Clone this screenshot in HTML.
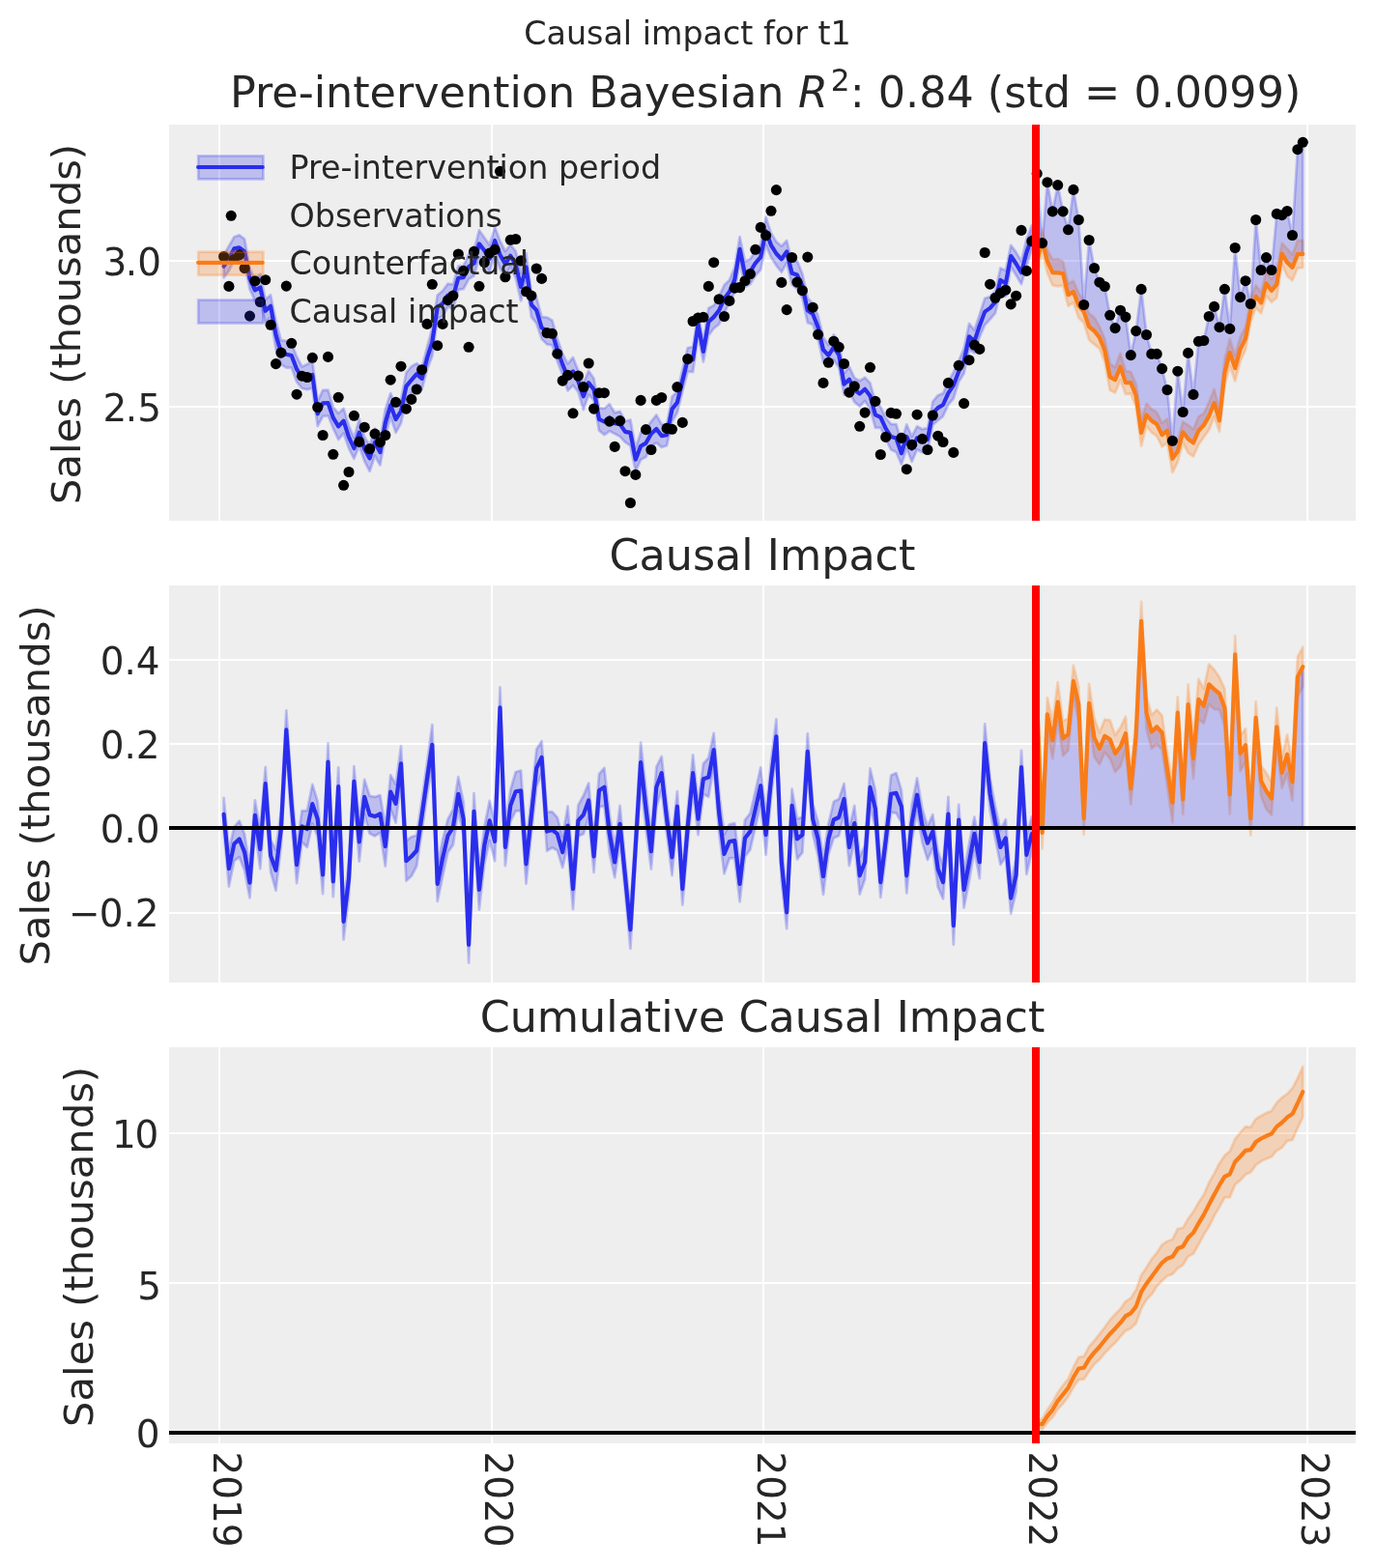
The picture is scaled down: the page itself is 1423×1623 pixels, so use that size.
<!DOCTYPE html>
<html lang="en"><head><meta charset="utf-8"><title>Causal impact for t1</title>
<style>html,body{margin:0;padding:0;background:#fff}body{width:1423px;height:1623px;overflow:hidden}svg{display:block}text{font-family:'DejaVu Sans','Liberation Sans',sans-serif;fill:#262626}</style></head><body>
<svg width="1423" height="1623" viewBox="0 0 1423 1623">
<rect width="1423" height="1623" fill="#fff"/>
<defs>
<clipPath id="c1"><rect x="175" y="129" width="1228" height="410"/></clipPath>
<clipPath id="c2"><rect x="175" y="606" width="1228" height="411"/></clipPath>
<clipPath id="c3"><rect x="175" y="1084" width="1228" height="410"/></clipPath>
</defs>
<g clip-path="url(#c1)">
<rect x="175" y="129" width="1228" height="410" fill="#eeeeee"/>
<rect x="226" y="129" width="2" height="410" fill="#fff"/>
<rect x="508" y="129" width="2" height="410" fill="#fff"/>
<rect x="789" y="129" width="2" height="410" fill="#fff"/>
<rect x="1071" y="129" width="2" height="410" fill="#fff"/>
<rect x="1352" y="129" width="2" height="410" fill="#fff"/>
<rect x="175" y="269" width="1228" height="2" fill="#fff"/>
<rect x="175" y="420" width="1228" height="2" fill="#fff"/>
<polygon points="231.6,264.0 236.9,254.8 242.3,245.2 247.7,243.3 253.1,247.4 258.5,277.4 263.9,289.5 269.3,283.6 274.7,310.1 280.1,305.2 285.5,332.2 290.9,352.2 296.3,352.8 301.7,355.5 307.1,369.0 312.5,379.4 317.9,376.9 323.3,373.8 328.7,415.6 334.1,403.8 339.5,403.7 344.8,421.4 350.2,427.8 355.6,422.7 361.0,440.4 366.4,453.1 371.8,433.7 377.2,452.2 382.6,461.0 388.0,443.6 393.4,454.7 398.8,423.4 404.2,407.1 409.6,420.3 415.0,413.2 420.4,385.7 425.8,379.3 431.2,376.1 436.6,380.6 442.0,359.3 447.3,339.9 452.7,305.5 458.1,301.0 463.5,293.7 468.9,294.3 474.3,275.5 479.7,275.0 485.1,263.0 490.5,259.6 495.9,238.2 501.3,246.0 506.7,253.5 512.1,235.1 517.5,249.3 522.9,260.0 528.3,253.3 533.7,260.0 539.1,282.6 544.5,262.2 549.9,302.4 555.2,307.8 560.6,327.8 566.0,328.6 571.4,331.4 576.8,350.4 582.2,366.1 587.6,376.5 593.0,370.0 598.4,383.5 603.8,396.5 609.2,383.9 614.6,391.8 620.0,422.0 625.4,422.8 630.8,418.2 636.2,427.2 641.6,425.8 647.0,436.0 652.4,434.5 657.8,463.7 663.1,447.7 668.5,444.1 673.9,436.4 679.3,429.4 684.7,439.2 690.1,439.2 695.5,410.6 700.9,405.5 706.3,382.5 711.7,360.0 717.1,359.0 722.5,324.5 727.9,352.9 733.3,319.0 738.7,316.1 744.1,306.9 749.5,295.0 754.9,289.9 760.3,276.9 765.6,245.1 771.0,270.6 776.4,268.3 781.8,259.5 787.2,253.0 792.6,224.8 798.0,241.1 803.4,250.1 808.8,254.7 814.2,248.9 819.6,270.9 825.0,270.1 830.4,283.5 835.8,308.4 841.2,314.2 846.6,326.5 852.0,349.1 857.4,357.0 862.8,346.4 868.2,354.1 873.5,386.7 878.9,379.6 884.3,391.1 889.7,394.2 895.1,390.8 900.5,396.4 905.9,415.8 911.3,421.1 916.7,432.7 922.1,438.8 927.5,439.2 932.9,457.5 938.3,439.4 943.7,451.7 949.1,441.3 954.5,444.2 959.9,443.1 965.3,415.7 970.7,409.2 976.0,407.1 981.4,394.6 986.8,385.2 992.2,373.6 997.6,360.8 1003.0,334.9 1008.4,341.5 1013.8,325.6 1019.2,308.8 1024.6,307.2 1030.0,301.3 1035.4,277.5 1040.8,279.9 1046.2,253.8 1051.6,261.1 1057.0,270.2 1062.4,247.6 1067.8,233.2 1067.8,258.0 1062.4,275.4 1057.0,294.1 1051.6,285.0 1046.2,276.1 1040.8,306.6 1035.4,302.3 1030.0,324.1 1024.6,330.5 1019.2,336.4 1013.8,348.8 1008.4,365.3 1003.0,361.9 997.6,386.6 992.2,395.3 986.8,412.5 981.4,418.9 976.0,430.8 970.7,435.1 965.3,440.0 959.9,466.9 954.5,468.4 949.1,465.2 943.7,477.7 938.3,464.3 932.9,480.8 927.5,468.0 922.1,465.4 916.7,454.6 911.3,442.7 905.9,442.8 900.5,423.2 895.1,414.9 889.7,420.8 884.3,416.1 878.9,405.8 873.5,408.6 868.2,380.4 862.8,372.5 857.4,378.6 852.0,374.9 846.6,351.1 841.2,335.8 835.8,334.1 830.4,308.9 825.0,299.0 819.6,294.7 814.2,272.1 808.8,281.7 803.4,274.8 798.0,266.4 792.6,253.4 787.2,279.2 781.8,285.2 776.4,294.3 771.0,296.9 765.6,270.5 760.3,301.9 754.9,314.3 749.5,323.3 744.1,335.6 738.7,340.0 733.3,347.1 727.9,374.6 722.5,347.1 717.1,385.1 711.7,384.6 706.3,405.5 700.9,427.2 695.5,436.6 690.1,461.2 684.7,463.0 679.3,458.4 673.9,461.7 668.5,473.0 663.1,475.9 657.8,487.6 652.4,461.4 647.0,457.7 641.6,451.9 636.2,449.0 630.8,446.3 625.4,450.1 620.0,445.7 614.6,414.4 609.2,408.5 603.8,424.1 598.4,405.6 593.0,398.9 587.6,404.4 582.2,388.0 576.8,374.1 571.4,357.3 566.0,356.4 560.6,350.9 555.2,334.7 549.9,328.2 544.5,290.6 539.1,311.4 533.7,288.0 528.3,276.0 522.9,286.6 517.5,278.3 512.1,263.0 506.7,282.0 501.3,272.7 495.9,266.5 490.5,285.5 485.1,288.9 479.7,299.1 474.3,299.9 468.9,319.6 463.5,317.5 458.1,327.3 452.7,330.3 447.3,368.7 442.0,382.4 436.6,403.1 431.2,398.3 425.8,407.4 420.4,414.2 415.0,438.1 409.6,447.9 404.2,431.6 398.8,451.8 393.4,481.6 388.0,471.8 382.6,487.9 377.2,477.3 371.8,461.7 366.4,474.8 361.0,464.1 355.6,448.6 350.2,455.0 344.8,443.3 339.5,430.3 334.1,430.8 328.7,441.0 323.3,401.8 317.9,403.2 312.5,402.0 307.1,395.3 301.7,380.6 296.3,380.6 290.9,377.2 285.5,361.2 280.1,328.4 274.7,333.5 269.3,311.4 263.9,311.1 258.5,299.3 253.1,273.6 247.7,269.3 242.3,269.5 236.9,280.4 231.6,287.3" fill="#2a2eec" fill-opacity="0.25" stroke="#2a2eec" stroke-opacity="0.25" stroke-width="2.78" stroke-linejoin="round"/>
<polygon points="1073.2,256.5 1078.6,237.2 1083.9,258.4 1089.3,268.9 1094.7,268.2 1100.1,270.8 1105.5,293.6 1110.9,290.8 1116.3,303.6 1121.7,311.1 1127.1,324.4 1132.5,328.6 1137.9,338.0 1143.3,350.9 1148.7,376.4 1154.1,380.1 1159.5,365.8 1164.9,384.0 1170.3,385.0 1175.7,397.5 1181.1,434.2 1186.5,417.7 1191.8,423.5 1197.2,426.8 1202.6,437.8 1208.0,433.5 1213.4,460.6 1218.8,455.8 1224.2,436.6 1229.6,440.0 1235.0,444.4 1240.4,431.3 1245.8,427.8 1251.2,416.3 1256.6,402.8 1262.0,423.7 1267.4,372.3 1272.8,350.9 1278.2,367.9 1283.6,348.6 1289.0,338.5 1294.3,309.6 1299.7,295.2 1305.1,302.5 1310.5,280.5 1315.9,289.1 1321.3,280.4 1326.7,251.7 1332.1,257.4 1337.5,263.5 1342.9,249.0 1348.3,248.8 1348.3,277.1 1342.9,277.5 1337.5,290.3 1332.1,285.7 1326.7,273.5 1321.3,308.0 1315.9,312.7 1310.5,306.4 1305.1,324.4 1299.7,318.4 1294.3,333.6 1289.0,362.2 1283.6,374.0 1278.2,394.4 1272.8,378.7 1267.4,399.4 1262.0,446.9 1256.6,431.3 1251.2,445.0 1245.8,452.5 1240.4,460.3 1235.0,472.5 1229.6,468.6 1224.2,458.1 1218.8,478.4 1213.4,489.0 1208.0,458.1 1202.6,462.5 1197.2,451.4 1191.8,447.6 1186.5,441.2 1181.1,461.7 1175.7,421.2 1170.3,407.4 1164.9,408.1 1159.5,393.4 1154.1,406.5 1148.7,403.9 1143.3,374.5 1137.9,360.8 1132.5,356.4 1127.1,352.0 1121.7,334.0 1116.3,329.1 1110.9,313.2 1105.5,316.8 1100.1,295.7 1094.7,296.3 1089.3,295.3 1083.9,282.4 1078.6,260.0 1073.2,284.4" fill="#fa7c17" fill-opacity="0.25" stroke="#fa7c17" stroke-opacity="0.25" stroke-width="2.78" stroke-linejoin="round"/>
<polygon points="1073.2,179.7 1078.6,251.6 1083.9,188.7 1089.3,218.9 1094.7,191.6 1100.1,218.9 1105.5,237.8 1110.9,196.4 1116.3,227.5 1121.7,315.5 1127.1,248.5 1132.5,277.5 1137.9,292.2 1143.3,296.5 1148.7,326.3 1154.1,339.6 1159.5,321.2 1164.9,328.1 1170.3,367.6 1175.7,342.6 1181.1,299.4 1186.5,346.5 1191.8,366.4 1197.2,366.4 1202.6,381.6 1208.0,403.5 1213.4,456.3 1218.8,384.2 1224.2,426.5 1229.6,365.4 1235.0,408.4 1240.4,353.3 1245.8,352.5 1251.2,327.5 1256.6,317.4 1262.0,338.7 1267.4,299.3 1272.8,340.4 1278.2,256.5 1283.6,307.6 1289.0,290.7 1294.3,314.5 1299.7,227.5 1305.1,279.5 1310.5,266.6 1315.9,279.5 1321.3,221.4 1326.7,222.7 1332.1,218.5 1337.5,243.5 1342.9,154.7 1348.3,147.3 1348.3,263.0 1342.9,263.2 1337.5,276.9 1332.1,271.6 1326.7,262.6 1321.3,294.2 1315.9,300.9 1310.5,293.4 1305.1,313.4 1299.7,306.8 1294.3,321.6 1289.0,350.3 1283.6,361.3 1278.2,381.2 1272.8,364.8 1267.4,385.8 1262.0,435.3 1256.6,417.1 1251.2,430.6 1245.8,440.1 1240.4,445.8 1235.0,458.4 1229.6,454.3 1224.2,447.3 1218.8,467.1 1213.4,474.8 1208.0,445.8 1202.6,450.1 1197.2,439.1 1191.8,435.5 1186.5,429.4 1181.1,448.0 1175.7,409.4 1170.3,396.2 1164.9,396.1 1159.5,379.6 1154.1,393.3 1148.7,390.1 1143.3,362.7 1137.9,349.4 1132.5,342.5 1127.1,338.2 1121.7,322.6 1116.3,316.4 1110.9,302.0 1105.5,305.2 1100.1,283.3 1094.7,282.3 1089.3,282.1 1083.9,270.4 1078.6,248.6 1073.2,270.5" fill="#2a2eec" fill-opacity="0.25" stroke="#2a2eec" stroke-opacity="0.25" stroke-width="2.78" stroke-linejoin="round"/>
<polyline points="231.6,275.7 236.9,267.6 242.3,257.4 247.7,256.3 253.1,260.5 258.5,288.3 263.9,300.3 269.3,297.5 274.7,321.8 280.1,316.8 285.5,346.7 290.9,364.7 296.3,366.7 301.7,368.0 307.1,382.2 312.5,390.7 317.9,390.1 323.3,387.8 328.7,428.3 334.1,417.3 339.5,417.0 344.8,432.4 350.2,441.4 355.6,435.6 361.0,452.3 366.4,464.0 371.8,447.7 377.2,464.8 382.6,474.4 388.0,457.7 393.4,468.1 398.8,437.6 404.2,419.3 409.6,434.1 415.0,425.7 420.4,399.9 425.8,393.3 431.2,387.2 436.6,391.9 442.0,370.9 447.3,354.3 452.7,317.9 458.1,314.2 463.5,305.6 468.9,307.0 474.3,287.7 479.7,287.1 485.1,276.0 490.5,272.6 495.9,252.4 501.3,259.3 506.7,267.8 512.1,249.0 517.5,263.8 522.9,273.3 528.3,264.7 533.7,274.0 539.1,297.0 544.5,276.4 549.9,315.3 555.2,321.2 560.6,339.3 566.0,342.5 571.4,344.3 576.8,362.2 582.2,377.1 587.6,390.5 593.0,384.4 598.4,394.6 603.8,410.3 609.2,396.2 614.6,403.1 620.0,433.8 625.4,436.5 630.8,432.2 636.2,438.1 641.6,438.9 647.0,446.9 652.4,447.9 657.8,475.7 663.1,461.8 668.5,458.6 673.9,449.0 679.3,443.9 684.7,451.1 690.1,450.2 695.5,423.6 700.9,416.4 706.3,394.0 711.7,372.3 717.1,372.1 722.5,335.8 727.9,363.8 733.3,333.0 738.7,328.1 744.1,321.3 749.5,309.2 754.9,302.1 760.3,289.4 765.6,257.8 771.0,283.8 776.4,281.3 781.8,272.3 787.2,266.1 792.6,239.1 798.0,253.8 803.4,262.5 808.8,268.2 814.2,260.5 819.6,282.8 825.0,284.6 830.4,296.2 835.8,321.3 841.2,325.0 846.6,338.8 852.0,362.0 857.4,367.8 862.8,359.4 868.2,367.3 873.5,397.7 878.9,392.7 884.3,403.6 889.7,407.5 895.1,402.8 900.5,409.8 905.9,429.3 911.3,431.9 916.7,443.6 922.1,452.1 927.5,453.6 932.9,469.2 938.3,451.9 943.7,464.7 949.1,453.3 954.5,456.3 959.9,455.0 965.3,427.9 970.7,422.1 976.0,419.0 981.4,406.8 986.8,398.8 992.2,384.5 997.6,373.7 1003.0,348.4 1008.4,353.4 1013.8,337.2 1019.2,322.6 1024.6,318.9 1030.0,312.7 1035.4,289.9 1040.8,293.3 1046.2,265.0 1051.6,273.0 1057.0,282.2 1062.4,261.5 1067.8,245.6" fill="none" stroke="#2a2eec" stroke-width="4.17" stroke-linejoin="round" stroke-linecap="round"/>
<g fill="#000"><circle cx="231.6" cy="265.5" r="5.55"/><circle cx="236.9" cy="296.4" r="5.55"/><circle cx="242.3" cy="268.5" r="5.55"/><circle cx="247.7" cy="263.8" r="5.55"/><circle cx="253.1" cy="277.6" r="5.55"/><circle cx="258.5" cy="327.1" r="5.55"/><circle cx="263.9" cy="290.9" r="5.55"/><circle cx="269.3" cy="312.5" r="5.55"/><circle cx="274.7" cy="289.7" r="5.55"/><circle cx="280.1" cy="336.3" r="5.55"/><circle cx="285.5" cy="376.6" r="5.55"/><circle cx="290.9" cy="365.1" r="5.55"/><circle cx="296.3" cy="296.1" r="5.55"/><circle cx="301.7" cy="355.3" r="5.55"/><circle cx="307.1" cy="408.2" r="5.55"/><circle cx="312.5" cy="389.2" r="5.55"/><circle cx="317.9" cy="390.5" r="5.55"/><circle cx="323.3" cy="370.3" r="5.55"/><circle cx="328.7" cy="421.5" r="5.55"/><circle cx="334.1" cy="450.5" r="5.55"/><circle cx="339.5" cy="369.4" r="5.55"/><circle cx="344.8" cy="470.3" r="5.55"/><circle cx="350.2" cy="411.3" r="5.55"/><circle cx="355.6" cy="502.3" r="5.55"/><circle cx="361.0" cy="488.5" r="5.55"/><circle cx="366.4" cy="430.3" r="5.55"/><circle cx="371.8" cy="457.4" r="5.55"/><circle cx="377.2" cy="442.2" r="5.55"/><circle cx="382.6" cy="464.6" r="5.55"/><circle cx="388.0" cy="449.1" r="5.55"/><circle cx="393.4" cy="457.7" r="5.55"/><circle cx="398.8" cy="450.5" r="5.55"/><circle cx="404.2" cy="393.2" r="5.55"/><circle cx="409.6" cy="416.3" r="5.55"/><circle cx="415.0" cy="379.2" r="5.55"/><circle cx="420.4" cy="423.2" r="5.55"/><circle cx="425.8" cy="413.4" r="5.55"/><circle cx="431.2" cy="403.0" r="5.55"/><circle cx="436.6" cy="382.7" r="5.55"/><circle cx="442.0" cy="335.4" r="5.55"/><circle cx="447.3" cy="294.3" r="5.55"/><circle cx="452.7" cy="357.7" r="5.55"/><circle cx="458.1" cy="335.4" r="5.55"/><circle cx="463.5" cy="310.7" r="5.55"/><circle cx="468.9" cy="306.1" r="5.55"/><circle cx="474.3" cy="263.0" r="5.55"/><circle cx="479.7" cy="280.3" r="5.55"/><circle cx="485.1" cy="359.3" r="5.55"/><circle cx="490.5" cy="260.4" r="5.55"/><circle cx="495.9" cy="296.3" r="5.55"/><circle cx="501.3" cy="271.6" r="5.55"/><circle cx="506.7" cy="262.1" r="5.55"/><circle cx="512.1" cy="258.4" r="5.55"/><circle cx="517.5" cy="177.3" r="5.55"/><circle cx="522.9" cy="286.8" r="5.55"/><circle cx="528.3" cy="248.3" r="5.55"/><circle cx="533.7" cy="247.5" r="5.55"/><circle cx="539.1" cy="269.9" r="5.55"/><circle cx="544.5" cy="301.8" r="5.55"/><circle cx="549.9" cy="306.1" r="5.55"/><circle cx="555.2" cy="278.0" r="5.55"/><circle cx="560.6" cy="288.4" r="5.55"/><circle cx="566.0" cy="344.6" r="5.55"/><circle cx="571.4" cy="345.3" r="5.55"/><circle cx="576.8" cy="366.2" r="5.55"/><circle cx="582.2" cy="394.1" r="5.55"/><circle cx="587.6" cy="388.4" r="5.55"/><circle cx="593.0" cy="427.8" r="5.55"/><circle cx="598.4" cy="389.0" r="5.55"/><circle cx="603.8" cy="400.5" r="5.55"/><circle cx="609.2" cy="376.0" r="5.55"/><circle cx="614.6" cy="423.1" r="5.55"/><circle cx="620.0" cy="406.7" r="5.55"/><circle cx="625.4" cy="406.7" r="5.55"/><circle cx="630.8" cy="436.2" r="5.55"/><circle cx="636.2" cy="462.4" r="5.55"/><circle cx="641.6" cy="435.6" r="5.55"/><circle cx="647.0" cy="487.7" r="5.55"/><circle cx="652.4" cy="520.5" r="5.55"/><circle cx="657.8" cy="491.4" r="5.55"/><circle cx="663.1" cy="414.4" r="5.55"/><circle cx="668.5" cy="444.6" r="5.55"/><circle cx="673.9" cy="465.5" r="5.55"/><circle cx="679.3" cy="414.4" r="5.55"/><circle cx="684.7" cy="411.5" r="5.55"/><circle cx="690.1" cy="443.4" r="5.55"/><circle cx="695.5" cy="444.3" r="5.55"/><circle cx="700.9" cy="400.6" r="5.55"/><circle cx="706.3" cy="437.4" r="5.55"/><circle cx="711.7" cy="371.5" r="5.55"/><circle cx="717.1" cy="332.5" r="5.55"/><circle cx="722.5" cy="329.0" r="5.55"/><circle cx="727.9" cy="328.3" r="5.55"/><circle cx="733.3" cy="296.4" r="5.55"/><circle cx="738.7" cy="271.7" r="5.55"/><circle cx="744.1" cy="309.7" r="5.55"/><circle cx="749.5" cy="327.5" r="5.55"/><circle cx="754.9" cy="311.4" r="5.55"/><circle cx="760.3" cy="298.1" r="5.55"/><circle cx="765.6" cy="297.6" r="5.55"/><circle cx="771.0" cy="290.7" r="5.55"/><circle cx="776.4" cy="283.5" r="5.55"/><circle cx="781.8" cy="258.3" r="5.55"/><circle cx="787.2" cy="235.4" r="5.55"/><circle cx="792.6" cy="243.7" r="5.55"/><circle cx="798.0" cy="218.3" r="5.55"/><circle cx="803.4" cy="196.6" r="5.55"/><circle cx="808.8" cy="292.4" r="5.55"/><circle cx="814.2" cy="320.6" r="5.55"/><circle cx="819.6" cy="266.5" r="5.55"/><circle cx="825.0" cy="292.1" r="5.55"/><circle cx="830.4" cy="300.7" r="5.55"/><circle cx="835.8" cy="266.1" r="5.55"/><circle cx="841.2" cy="318.2" r="5.55"/><circle cx="846.6" cy="346.3" r="5.55"/><circle cx="852.0" cy="396.4" r="5.55"/><circle cx="857.4" cy="375.3" r="5.55"/><circle cx="862.8" cy="353.2" r="5.55"/><circle cx="868.2" cy="359.3" r="5.55"/><circle cx="873.5" cy="376.5" r="5.55"/><circle cx="878.9" cy="406.2" r="5.55"/><circle cx="884.3" cy="399.8" r="5.55"/><circle cx="889.7" cy="441.3" r="5.55"/><circle cx="895.1" cy="427.1" r="5.55"/><circle cx="900.5" cy="380.3" r="5.55"/><circle cx="905.9" cy="415.4" r="5.55"/><circle cx="911.3" cy="470.5" r="5.55"/><circle cx="916.7" cy="452.4" r="5.55"/><circle cx="922.1" cy="427.4" r="5.55"/><circle cx="927.5" cy="428.3" r="5.55"/><circle cx="932.9" cy="453.4" r="5.55"/><circle cx="938.3" cy="485.7" r="5.55"/><circle cx="943.7" cy="460.3" r="5.55"/><circle cx="949.1" cy="429.2" r="5.55"/><circle cx="954.5" cy="454.3" r="5.55"/><circle cx="959.9" cy="465.5" r="5.55"/><circle cx="965.3" cy="430.0" r="5.55"/><circle cx="970.7" cy="451.2" r="5.55"/><circle cx="976.0" cy="457.5" r="5.55"/><circle cx="981.4" cy="396.4" r="5.55"/><circle cx="986.8" cy="468.4" r="5.55"/><circle cx="992.2" cy="378.3" r="5.55"/><circle cx="997.6" cy="417.6" r="5.55"/><circle cx="1003.0" cy="372.7" r="5.55"/><circle cx="1008.4" cy="357.1" r="5.55"/><circle cx="1013.8" cy="361.4" r="5.55"/><circle cx="1019.2" cy="261.5" r="5.55"/><circle cx="1024.6" cy="294.2" r="5.55"/><circle cx="1030.0" cy="308.3" r="5.55"/><circle cx="1035.4" cy="303.4" r="5.55"/><circle cx="1040.8" cy="300.2" r="5.55"/><circle cx="1046.2" cy="314.9" r="5.55"/><circle cx="1051.6" cy="306.2" r="5.55"/><circle cx="1057.0" cy="238.4" r="5.55"/><circle cx="1062.4" cy="280.4" r="5.55"/><circle cx="1067.8" cy="249.6" r="5.55"/></g>
<polyline points="1073.2,270.5 1078.6,248.6 1083.9,270.4 1089.3,282.1 1094.7,282.3 1100.1,283.3 1105.5,305.2 1110.9,302.0 1116.3,316.4 1121.7,322.6 1127.1,338.2 1132.5,342.5 1137.9,349.4 1143.3,362.7 1148.7,390.1 1154.1,393.3 1159.5,379.6 1164.9,396.1 1170.3,396.2 1175.7,409.4 1181.1,448.0 1186.5,429.4 1191.8,435.5 1197.2,439.1 1202.6,450.1 1208.0,445.8 1213.4,474.8 1218.8,467.1 1224.2,447.3 1229.6,454.3 1235.0,458.4 1240.4,445.8 1245.8,440.1 1251.2,430.6 1256.6,417.1 1262.0,435.3 1267.4,385.8 1272.8,364.8 1278.2,381.2 1283.6,361.3 1289.0,350.3 1294.3,321.6 1299.7,306.8 1305.1,313.4 1310.5,293.4 1315.9,300.9 1321.3,294.2 1326.7,262.6 1332.1,271.6 1337.5,276.9 1342.9,263.2 1348.3,263.0" fill="none" stroke="#fa7c17" stroke-width="4.17" stroke-linejoin="round" stroke-linecap="round"/>
<g fill="#000"><circle cx="1073.2" cy="179.7" r="5.55"/><circle cx="1078.6" cy="251.6" r="5.55"/><circle cx="1083.9" cy="188.7" r="5.55"/><circle cx="1089.3" cy="218.9" r="5.55"/><circle cx="1094.7" cy="191.6" r="5.55"/><circle cx="1100.1" cy="218.9" r="5.55"/><circle cx="1105.5" cy="237.8" r="5.55"/><circle cx="1110.9" cy="196.4" r="5.55"/><circle cx="1116.3" cy="227.5" r="5.55"/><circle cx="1121.7" cy="315.5" r="5.55"/><circle cx="1127.1" cy="248.5" r="5.55"/><circle cx="1132.5" cy="277.5" r="5.55"/><circle cx="1137.9" cy="292.2" r="5.55"/><circle cx="1143.3" cy="296.5" r="5.55"/><circle cx="1148.7" cy="326.3" r="5.55"/><circle cx="1154.1" cy="339.6" r="5.55"/><circle cx="1159.5" cy="321.2" r="5.55"/><circle cx="1164.9" cy="328.1" r="5.55"/><circle cx="1170.3" cy="367.6" r="5.55"/><circle cx="1175.7" cy="342.6" r="5.55"/><circle cx="1181.1" cy="299.4" r="5.55"/><circle cx="1186.5" cy="346.5" r="5.55"/><circle cx="1191.8" cy="366.4" r="5.55"/><circle cx="1197.2" cy="366.4" r="5.55"/><circle cx="1202.6" cy="381.6" r="5.55"/><circle cx="1208.0" cy="403.5" r="5.55"/><circle cx="1213.4" cy="456.3" r="5.55"/><circle cx="1218.8" cy="384.2" r="5.55"/><circle cx="1224.2" cy="426.5" r="5.55"/><circle cx="1229.6" cy="365.4" r="5.55"/><circle cx="1235.0" cy="408.4" r="5.55"/><circle cx="1240.4" cy="353.3" r="5.55"/><circle cx="1245.8" cy="352.5" r="5.55"/><circle cx="1251.2" cy="327.5" r="5.55"/><circle cx="1256.6" cy="317.4" r="5.55"/><circle cx="1262.0" cy="338.7" r="5.55"/><circle cx="1267.4" cy="299.3" r="5.55"/><circle cx="1272.8" cy="340.4" r="5.55"/><circle cx="1278.2" cy="256.5" r="5.55"/><circle cx="1283.6" cy="307.6" r="5.55"/><circle cx="1289.0" cy="290.7" r="5.55"/><circle cx="1294.3" cy="314.5" r="5.55"/><circle cx="1299.7" cy="227.5" r="5.55"/><circle cx="1305.1" cy="279.5" r="5.55"/><circle cx="1310.5" cy="266.6" r="5.55"/><circle cx="1315.9" cy="279.5" r="5.55"/><circle cx="1321.3" cy="221.4" r="5.55"/><circle cx="1326.7" cy="222.7" r="5.55"/><circle cx="1332.1" cy="218.5" r="5.55"/><circle cx="1337.5" cy="243.5" r="5.55"/><circle cx="1342.9" cy="154.7" r="5.55"/><circle cx="1348.3" cy="147.3" r="5.55"/></g>
<rect x="1068" y="129" width="8" height="410" fill="#ff0000"/>
<rect x="205.2" y="161.40" width="67.2" height="24" fill="#2a2eec" fill-opacity="0.25" stroke="#2a2eec" stroke-opacity="0.25" stroke-width="2.78"/>
<line x1="205.1" y1="173.00" x2="271.7" y2="173.00" stroke="#2a2eec" stroke-width="4.17" stroke-linecap="round"/>
<circle cx="239.2" cy="223.30" r="5.55" fill="#000"/>
<rect x="205.2" y="260.70" width="67.2" height="24" fill="#fa7c17" fill-opacity="0.25" stroke="#fa7c17" stroke-opacity="0.25" stroke-width="2.78"/>
<line x1="205.1" y1="271.80" x2="271.7" y2="271.80" stroke="#fa7c17" stroke-width="4.17" stroke-linecap="round"/>
<rect x="205.2" y="310.50" width="67.2" height="24" fill="#2a2eec" fill-opacity="0.25" stroke="#2a2eec" stroke-opacity="0.25" stroke-width="2.78"/>
</g>
<g clip-path="url(#c2)">
<rect x="175" y="606" width="1228" height="411" fill="#eeeeee"/>
<rect x="226" y="606" width="2" height="411" fill="#fff"/>
<rect x="508" y="606" width="2" height="411" fill="#fff"/>
<rect x="789" y="606" width="2" height="411" fill="#fff"/>
<rect x="1071" y="606" width="2" height="411" fill="#fff"/>
<rect x="1352" y="606" width="2" height="411" fill="#fff"/>
<rect x="175" y="682" width="1228" height="2" fill="#fff"/>
<rect x="175" y="769" width="1228" height="2" fill="#fff"/>
<rect x="175" y="856" width="1228" height="2" fill="#fff"/>
<rect x="175" y="944" width="1228" height="2" fill="#fff"/>
<polygon points="231.6,826.0 236.9,880.6 242.3,856.0 247.7,849.6 253.1,863.2 258.5,897.7 263.9,828.3 269.3,859.0 274.7,794.2 280.1,868.8 285.5,879.8 290.9,839.9 296.3,735.3 301.7,814.0 307.1,876.1 312.5,839.1 317.9,839.0 323.3,811.9 328.7,829.3 334.1,885.9 339.5,769.5 344.8,896.5 350.2,794.4 355.6,935.0 361.0,892.6 366.4,793.2 371.8,851.2 377.2,806.8 382.6,823.9 388.0,824.8 393.4,823.1 398.8,855.6 404.2,802.1 409.6,811.9 415.0,772.4 420.4,870.5 425.8,866.2 431.2,864.4 436.6,828.0 442.0,789.6 447.3,750.1 452.7,897.1 458.1,869.3 463.5,847.8 468.9,838.0 474.3,804.2 479.7,830.2 485.1,959.2 490.5,821.2 495.9,900.5 501.3,856.0 506.7,828.8 512.1,850.8 517.5,711.5 522.9,857.8 528.3,817.5 533.7,799.0 539.1,797.5 544.5,873.8 549.9,825.6 555.2,775.6 560.6,767.2 566.0,840.5 571.4,840.2 576.8,846.1 582.2,866.3 587.6,834.4 593.0,899.2 598.4,833.4 603.8,823.5 609.2,810.6 614.6,870.2 620.0,801.2 625.4,794.8 630.8,842.9 636.2,876.8 641.6,834.0 647.0,891.5 652.4,943.0 657.8,858.0 663.1,768.7 668.5,816.4 673.9,863.0 679.3,793.9 684.7,783.0 690.1,831.8 695.5,868.6 700.9,819.1 706.3,903.6 711.7,838.6 717.1,781.4 722.5,831.3 727.9,790.5 733.3,784.3 738.7,758.8 744.1,820.0 749.5,863.5 754.9,853.4 760.3,852.1 765.6,896.6 771.0,848.5 776.4,841.8 781.8,818.7 787.2,794.3 792.6,843.4 798.0,788.0 803.4,744.4 808.8,873.1 814.2,927.5 819.6,816.7 825.0,847.5 830.4,845.7 835.8,759.3 841.2,832.1 846.6,850.6 852.0,888.5 857.4,852.8 862.8,829.7 868.2,827.0 873.5,811.1 878.9,858.1 884.3,833.9 889.7,887.1 895.1,875.1 900.5,795.5 905.9,817.8 911.3,897.6 916.7,854.3 922.1,802.6 927.5,800.1 932.9,817.9 938.3,888.3 943.7,832.4 949.1,805.4 954.5,837.1 959.9,855.5 965.3,843.1 970.7,880.7 976.0,896.1 981.4,824.9 986.8,938.4 992.2,832.9 997.6,902.4 1003.0,873.0 1008.4,845.7 1013.8,875.8 1019.2,749.3 1024.6,805.0 1030.0,834.6 1035.4,859.1 1040.8,848.2 1046.2,913.6 1051.6,888.2 1057.0,776.9 1062.4,864.7 1067.8,845.3 1067.8,881.1 1062.4,904.9 1057.0,811.5 1051.6,922.7 1046.2,945.7 1040.8,886.9 1035.4,894.9 1030.0,867.7 1024.6,838.6 1019.2,789.1 1013.8,909.3 1008.4,880.1 1003.0,912.1 997.6,939.6 992.2,864.2 986.8,977.8 981.4,860.1 976.0,930.4 970.7,918.2 965.3,878.1 959.9,889.9 954.5,872.1 949.1,839.9 943.7,869.9 938.3,924.4 932.9,851.6 927.5,841.7 922.1,841.0 916.7,885.9 911.3,928.9 905.9,856.9 900.5,834.3 895.1,910.0 889.7,925.6 884.3,870.1 878.9,896.0 873.5,842.8 868.2,864.9 862.8,867.4 857.4,884.0 852.0,925.9 846.6,886.2 841.2,863.2 835.8,796.3 830.4,882.4 825.0,889.3 819.6,851.0 814.2,961.1 808.8,912.0 803.4,780.1 798.0,824.6 792.6,884.7 787.2,832.1 781.8,855.9 776.4,879.4 771.0,886.6 765.6,933.3 760.3,888.1 754.9,888.5 749.5,904.3 744.1,861.5 738.7,793.3 733.3,824.8 727.9,822.0 722.5,864.0 717.1,819.1 711.7,874.0 706.3,936.7 700.9,850.4 695.5,906.2 690.1,863.6 684.7,817.4 679.3,835.9 673.9,899.6 668.5,858.2 663.1,809.4 657.8,892.6 652.4,981.9 647.0,923.0 641.6,871.7 636.2,908.3 630.8,883.5 625.4,834.3 620.0,835.5 614.6,902.8 609.2,846.1 603.8,863.3 598.4,865.4 593.0,941.1 587.6,874.8 582.2,898.0 576.8,880.3 571.4,877.5 566.0,880.7 560.6,800.5 555.2,814.5 549.9,862.9 544.5,914.7 539.1,839.2 533.7,839.4 528.3,850.3 522.9,896.2 517.5,753.4 512.1,891.2 506.7,870.0 501.3,894.5 495.9,941.5 490.5,858.6 485.1,996.7 479.7,865.1 474.3,839.4 468.9,874.6 463.5,882.1 458.1,907.2 452.7,932.9 447.3,791.7 442.0,823.0 436.6,860.5 431.2,896.5 425.8,906.8 420.4,911.8 415.0,808.3 409.6,851.7 404.2,837.4 398.8,896.7 393.4,861.9 388.0,865.4 382.6,862.8 377.2,843.0 371.8,891.7 366.4,824.5 361.0,926.9 355.6,972.5 350.2,833.7 344.8,928.2 339.5,807.9 334.1,925.1 328.7,866.1 323.3,852.4 317.9,877.0 312.5,871.8 307.1,914.1 301.7,850.3 296.3,775.5 290.9,876.1 285.5,921.8 280.1,902.4 274.7,828.0 269.3,899.2 263.9,859.5 258.5,929.4 253.1,901.1 247.7,887.2 242.3,891.1 236.9,917.6 231.6,859.7" fill="#2a2eec" fill-opacity="0.25" stroke="#2a2eec" stroke-opacity="0.25" stroke-width="2.78" stroke-linejoin="round"/>
<polygon points="1073.2,706.1 1078.6,845.5 1083.9,722.1 1089.3,747.1 1094.7,706.1 1100.1,746.4 1105.5,743.4 1110.9,688.7 1116.3,710.6 1121.7,830.7 1127.1,707.9 1132.5,743.4 1137.9,758.3 1143.3,744.8 1148.7,745.3 1154.1,760.9 1159.5,753.1 1164.9,741.8 1170.3,800.0 1175.7,743.9 1181.1,622.9 1186.5,720.7 1191.8,740.1 1197.2,734.6 1202.6,740.6 1208.0,778.6 1213.4,810.3 1218.8,721.3 1224.2,811.9 1229.6,708.4 1235.0,764.8 1240.4,702.9 1245.8,712.9 1251.2,687.6 1256.6,692.9 1262.0,701.1 1267.4,712.9 1272.8,802.1 1278.2,658.1 1283.6,761.6 1289.0,754.2 1294.3,829.9 1299.7,726.1 1305.1,792.5 1310.5,800.0 1315.9,809.5 1321.3,732.4 1326.7,784.0 1332.1,760.3 1337.5,790.0 1342.9,680.0 1348.3,669.8 1348.3,710.7 1342.9,721.2 1337.5,828.6 1332.1,801.3 1326.7,815.5 1321.3,772.3 1315.9,843.6 1310.5,837.5 1305.1,824.3 1299.7,759.6 1294.3,864.6 1289.0,788.4 1283.6,798.3 1278.2,696.4 1272.8,842.3 1267.4,752.1 1262.0,734.6 1256.6,734.1 1251.2,729.1 1245.8,748.7 1240.4,744.8 1235.0,805.5 1229.6,749.7 1224.2,842.9 1218.8,754.0 1213.4,851.4 1208.0,814.1 1202.6,776.2 1197.2,770.1 1191.8,774.9 1186.5,754.7 1181.1,662.6 1175.7,778.1 1170.3,832.4 1164.9,776.6 1159.5,793.0 1154.1,799.0 1148.7,785.2 1143.3,778.9 1137.9,791.3 1132.5,783.7 1127.1,747.8 1121.7,863.8 1116.3,747.5 1110.9,721.1 1105.5,776.8 1100.1,782.4 1094.7,746.8 1089.3,785.2 1083.9,756.8 1078.6,878.3 1073.2,746.5" fill="#fa7c17" fill-opacity="0.25" stroke="#fa7c17" stroke-opacity="0.25" stroke-width="2.78" stroke-linejoin="round"/>
<polygon points="1073.2,726.3 1078.6,861.9 1083.9,739.4 1089.3,766.1 1094.7,726.5 1100.1,764.4 1105.5,760.1 1110.9,704.9 1116.3,729.1 1121.7,847.2 1127.1,727.8 1132.5,763.6 1137.9,774.8 1143.3,761.8 1148.7,765.3 1154.1,779.9 1159.5,773.0 1164.9,759.2 1170.3,816.2 1175.7,761.0 1181.1,642.8 1186.5,737.7 1191.8,757.5 1197.2,752.3 1202.6,758.4 1208.0,796.3 1213.4,830.8 1218.8,737.7 1224.2,827.4 1229.6,729.1 1235.0,785.1 1240.4,723.9 1245.8,730.8 1251.2,708.3 1256.6,713.5 1262.0,717.8 1267.4,732.5 1272.8,822.2 1278.2,677.3 1283.6,779.9 1289.0,771.3 1294.3,847.2 1299.7,742.9 1305.1,808.4 1310.5,818.8 1315.9,826.5 1321.3,752.3 1326.7,799.8 1332.1,780.8 1337.5,809.3 1342.9,700.6 1348.3,690.2 1348.3,857.0 1342.9,857.0 1337.5,857.0 1332.1,857.0 1326.7,857.0 1321.3,857.0 1315.9,857.0 1310.5,857.0 1305.1,857.0 1299.7,857.0 1294.3,857.0 1289.0,857.0 1283.6,857.0 1278.2,857.0 1272.8,857.0 1267.4,857.0 1262.0,857.0 1256.6,857.0 1251.2,857.0 1245.8,857.0 1240.4,857.0 1235.0,857.0 1229.6,857.0 1224.2,857.0 1218.8,857.0 1213.4,857.0 1208.0,857.0 1202.6,857.0 1197.2,857.0 1191.8,857.0 1186.5,857.0 1181.1,857.0 1175.7,857.0 1170.3,857.0 1164.9,857.0 1159.5,857.0 1154.1,857.0 1148.7,857.0 1143.3,857.0 1137.9,857.0 1132.5,857.0 1127.1,857.0 1121.7,857.0 1116.3,857.0 1110.9,857.0 1105.5,857.0 1100.1,857.0 1094.7,857.0 1089.3,857.0 1083.9,857.0 1078.6,857.0 1073.2,857.0" fill="#2a2eec" fill-opacity="0.25" stroke="#2a2eec" stroke-opacity="0.25" stroke-width="2.78" stroke-linejoin="round"/>
<polyline points="231.6,842.8 236.9,899.1 242.3,873.6 247.7,868.4 253.1,882.2 258.5,913.6 263.9,843.9 269.3,879.1 274.7,811.1 280.1,885.6 285.5,900.8 290.9,858.0 296.3,755.4 301.7,832.1 307.1,895.1 312.5,855.4 317.9,858.0 323.3,832.1 328.7,847.7 334.1,905.5 339.5,788.7 344.8,912.4 350.2,814.0 355.6,953.8 361.0,909.8 366.4,808.9 371.8,871.5 377.2,824.9 382.6,843.4 388.0,845.1 393.4,842.5 398.8,876.1 404.2,819.7 409.6,831.8 415.0,790.4 420.4,891.2 425.8,886.5 431.2,880.5 436.6,844.2 442.0,806.3 447.3,770.9 452.7,915.0 458.1,888.2 463.5,864.9 468.9,856.3 474.3,821.8 479.7,847.7 485.1,977.9 490.5,839.9 495.9,921.0 501.3,875.3 506.7,849.4 512.1,871.0 517.5,732.4 522.9,877.0 528.3,833.9 533.7,819.2 539.1,818.3 544.5,894.3 549.9,844.2 555.2,795.1 560.6,783.8 566.0,860.6 571.4,858.9 576.8,863.2 582.2,882.2 587.6,854.6 593.0,920.1 598.4,849.4 603.8,843.4 609.2,828.4 614.6,886.5 620.0,818.3 625.4,814.6 630.8,863.2 636.2,892.5 641.6,852.9 647.0,907.2 652.4,962.4 657.8,875.3 663.1,789.0 668.5,837.3 673.9,881.3 679.3,814.9 684.7,800.2 690.1,847.7 695.5,887.4 700.9,834.7 706.3,920.1 711.7,856.3 717.1,800.2 722.5,847.7 727.9,806.3 733.3,804.5 738.7,776.1 744.1,840.8 749.5,883.9 754.9,871.0 760.3,870.1 765.6,915.0 771.0,867.5 776.4,860.6 781.8,837.3 787.2,813.2 792.6,864.1 798.0,806.3 803.4,762.3 808.8,892.5 814.2,944.3 819.6,833.9 825.0,868.4 830.4,864.1 835.8,777.8 841.2,847.7 846.6,868.4 852.0,907.2 857.4,868.4 862.8,848.5 868.2,846.0 873.5,827.0 878.9,877.0 884.3,852.0 889.7,906.3 895.1,892.5 900.5,814.9 905.9,837.3 911.3,913.2 916.7,870.1 922.1,821.8 927.5,820.9 932.9,834.7 938.3,906.3 943.7,851.1 949.1,822.7 954.5,854.6 959.9,872.7 965.3,860.6 970.7,899.4 976.0,913.2 981.4,842.5 986.8,958.1 992.2,848.5 997.6,921.0 1003.0,892.5 1008.4,862.9 1013.8,892.5 1019.2,769.2 1024.6,821.8 1030.0,851.1 1035.4,877.0 1040.8,867.5 1046.2,929.6 1051.6,905.5 1057.0,794.2 1062.4,884.8 1067.8,863.2" fill="none" stroke="#2a2eec" stroke-width="4.17" stroke-linejoin="round" stroke-linecap="round"/>
<polyline points="1073.2,726.3 1078.6,861.9 1083.9,739.4 1089.3,766.1 1094.7,726.5 1100.1,764.4 1105.5,760.1 1110.9,704.9 1116.3,729.1 1121.7,847.2 1127.1,727.8 1132.5,763.6 1137.9,774.8 1143.3,761.8 1148.7,765.3 1154.1,779.9 1159.5,773.0 1164.9,759.2 1170.3,816.2 1175.7,761.0 1181.1,642.8 1186.5,737.7 1191.8,757.5 1197.2,752.3 1202.6,758.4 1208.0,796.3 1213.4,830.8 1218.8,737.7 1224.2,827.4 1229.6,729.1 1235.0,785.1 1240.4,723.9 1245.8,730.8 1251.2,708.3 1256.6,713.5 1262.0,717.8 1267.4,732.5 1272.8,822.2 1278.2,677.3 1283.6,779.9 1289.0,771.3 1294.3,847.2 1299.7,742.9 1305.1,808.4 1310.5,818.8 1315.9,826.5 1321.3,752.3 1326.7,799.8 1332.1,780.8 1337.5,809.3 1342.9,700.6 1348.3,690.2" fill="none" stroke="#fa7c17" stroke-width="4.17" stroke-linejoin="round" stroke-linecap="round"/>
<rect x="175" y="855" width="1228" height="4" fill="#000"/>
<rect x="1068" y="606" width="8" height="411" fill="#ff0000"/>
</g>
<g clip-path="url(#c3)">
<rect x="175" y="1084" width="1228" height="410" fill="#eeeeee"/>
<rect x="226" y="1084" width="2" height="410" fill="#fff"/>
<rect x="508" y="1084" width="2" height="410" fill="#fff"/>
<rect x="789" y="1084" width="2" height="410" fill="#fff"/>
<rect x="1071" y="1084" width="2" height="410" fill="#fff"/>
<rect x="1352" y="1084" width="2" height="410" fill="#fff"/>
<rect x="175" y="1172" width="1228" height="2" fill="#fff"/>
<rect x="175" y="1327" width="1228" height="2" fill="#fff"/>
<rect x="175" y="1482" width="1228" height="2" fill="#fff"/>
<polygon points="1073.2,1470.1 1078.6,1468.8 1083.9,1459.2 1089.3,1451.5 1094.7,1441.5 1100.1,1433.9 1105.5,1427.3 1110.9,1415.2 1116.3,1404.8 1121.7,1403.9 1127.1,1393.7 1132.5,1387.7 1137.9,1380.8 1143.3,1373.8 1148.7,1366.3 1154.1,1360.3 1159.5,1354.8 1164.9,1347.1 1170.3,1343.6 1175.7,1335.1 1181.1,1319.7 1186.5,1312.0 1191.8,1303.2 1197.2,1296.8 1202.6,1288.3 1208.0,1284.7 1213.4,1282.7 1218.8,1271.9 1224.2,1270.9 1229.6,1261.5 1235.0,1254.1 1240.4,1244.6 1245.8,1236.7 1251.2,1224.1 1256.6,1214.6 1262.0,1204.0 1267.4,1196.1 1272.8,1191.3 1278.2,1178.9 1283.6,1172.3 1289.0,1166.1 1294.3,1166.7 1299.7,1158.1 1305.1,1155.0 1310.5,1152.0 1315.9,1149.8 1321.3,1141.3 1326.7,1136.1 1332.1,1132.2 1337.5,1126.4 1342.9,1116.1 1348.3,1104.0 1348.3,1156.2 1342.9,1167.9 1337.5,1179.9 1332.1,1180.9 1326.7,1188.0 1321.3,1190.9 1315.9,1197.4 1310.5,1199.5 1305.1,1202.1 1299.7,1205.9 1294.3,1213.5 1289.0,1215.7 1283.6,1221.7 1278.2,1226.1 1272.8,1239.3 1267.4,1239.5 1262.0,1249.4 1256.6,1258.6 1251.2,1269.6 1245.8,1278.1 1240.4,1288.3 1235.0,1297.7 1229.6,1300.6 1224.2,1309.4 1218.8,1312.8 1213.4,1318.9 1208.0,1320.7 1202.6,1325.8 1197.2,1331.4 1191.8,1339.9 1186.5,1345.3 1181.1,1354.7 1175.7,1369.8 1170.3,1375.0 1164.9,1377.4 1159.5,1383.6 1154.1,1390.1 1148.7,1395.1 1143.3,1400.7 1137.9,1407.3 1132.5,1412.1 1127.1,1419.5 1121.7,1427.7 1116.3,1428.2 1110.9,1436.1 1105.5,1445.7 1100.1,1452.9 1094.7,1458.5 1089.3,1467.1 1083.9,1472.4 1078.6,1479.6 1073.2,1477.6" fill="#fa7c17" fill-opacity="0.25" stroke="#fa7c17" stroke-opacity="0.25" stroke-width="2.78" stroke-linejoin="round"/>
<polyline points="1073.2,1473.9 1078.6,1474.2 1083.9,1465.8 1089.3,1459.3 1094.7,1450.0 1100.1,1443.4 1105.5,1436.5 1110.9,1425.6 1116.3,1416.5 1121.7,1415.8 1127.1,1406.6 1132.5,1399.9 1137.9,1394.0 1143.3,1387.2 1148.7,1380.7 1154.1,1375.2 1159.5,1369.2 1164.9,1362.2 1170.3,1359.3 1175.7,1352.4 1181.1,1337.2 1186.5,1328.7 1191.8,1321.6 1197.2,1314.1 1202.6,1307.1 1208.0,1302.7 1213.4,1300.8 1218.8,1292.3 1224.2,1290.2 1229.6,1281.1 1235.0,1275.9 1240.4,1266.4 1245.8,1257.4 1251.2,1246.8 1256.6,1236.6 1262.0,1226.7 1267.4,1217.8 1272.8,1215.3 1278.2,1202.5 1283.6,1197.0 1289.0,1190.9 1294.3,1190.1 1299.7,1182.0 1305.1,1178.5 1310.5,1175.8 1315.9,1173.6 1321.3,1166.1 1326.7,1162.0 1332.1,1156.6 1337.5,1153.1 1342.9,1142.0 1348.3,1130.1" fill="none" stroke="#fa7c17" stroke-width="4.17" stroke-linejoin="round" stroke-linecap="round"/>
<rect x="175" y="1481" width="1228" height="4" fill="#000"/>
<rect x="1068" y="1084" width="8" height="410" fill="#ff0000"/>
</g>
<text x="711.50" y="46.00" font-size="33.33" text-anchor="middle" >Causal impact for t1</text>
<text x="238.0" y="111" font-size="44.44" text-anchor="start">Pre-intervention Bayesian <tspan font-style="italic" dx="0.3">R</tspan><tspan font-size="31.11" dy="-17" dx="3">2</tspan><tspan dy="17" dx="0">: 0.84 (std = 0.0099)</tspan></text>
<text x="789.00" y="590.00" font-size="44.44" text-anchor="middle" >Causal Impact</text>
<text x="789.00" y="1068.00" font-size="44.44" text-anchor="middle" >Cumulative Causal Impact</text>
<text transform="translate(83,335.4) rotate(-90)" font-size="41.67" text-anchor="middle">Sales (thousands)</text>
<text transform="translate(50.5,812.9) rotate(-90)" font-size="41.67" text-anchor="middle">Sales (thousands)</text>
<text transform="translate(95.7,1290.4) rotate(-90)" font-size="41.67" text-anchor="middle">Sales (thousands)</text>
<text x="165.50" y="285.00" font-size="38.89" text-anchor="end"><tspan dx="1.4">3</tspan><tspan dx="-1.4">.0</tspan></text>
<text x="165.50" y="436.00" font-size="38.89" text-anchor="end"><tspan dx="1.4">2</tspan><tspan dx="-1.4">.5</tspan></text>
<text x="165.50" y="698.00" font-size="38.89" text-anchor="end">0.4</text>
<text x="165.50" y="785.00" font-size="38.89" text-anchor="end">0.2</text>
<text x="165.50" y="872.00" font-size="38.89" text-anchor="end">0.0</text>
<text x="164.60" y="959.00" font-size="38.89" text-anchor="end"><tspan>−</tspan><tspan dx="-0.9">0.2</tspan></text>
<text x="164.30" y="1188.00" font-size="38.89" text-anchor="end"><tspan>1</tspan><tspan dx="-1.2">0</tspan></text>
<text x="167.10" y="1344.60" font-size="38.89" text-anchor="end">5</text>
<text x="165.50" y="1498.30" font-size="38.89" text-anchor="end">0</text>
<text transform="translate(220.60,1502.6) rotate(90)" font-size="38.89" text-anchor="start">2019</text>
<text transform="translate(501.91,1502.6) rotate(90)" font-size="38.89" text-anchor="start">2020</text>
<text transform="translate(783.98,1502.6) rotate(90)" font-size="38.89" text-anchor="start">2021</text>
<text transform="translate(1065.29,1502.6) rotate(90)" font-size="38.89" text-anchor="start">2022</text>
<text transform="translate(1346.59,1502.6) rotate(90)" font-size="38.89" text-anchor="start">2023</text>
<text x="299.50" y="185.00" font-size="33.33" text-anchor="start" >Pre-intervention period</text>
<text x="299.50" y="234.70" font-size="33.33" text-anchor="start" >Observations</text>
<text x="299.50" y="284.40" font-size="33.33" text-anchor="start" >Counterfactual</text>
<text x="299.50" y="334.10" font-size="33.33" text-anchor="start" >Causal impact</text>
</svg></body></html>
